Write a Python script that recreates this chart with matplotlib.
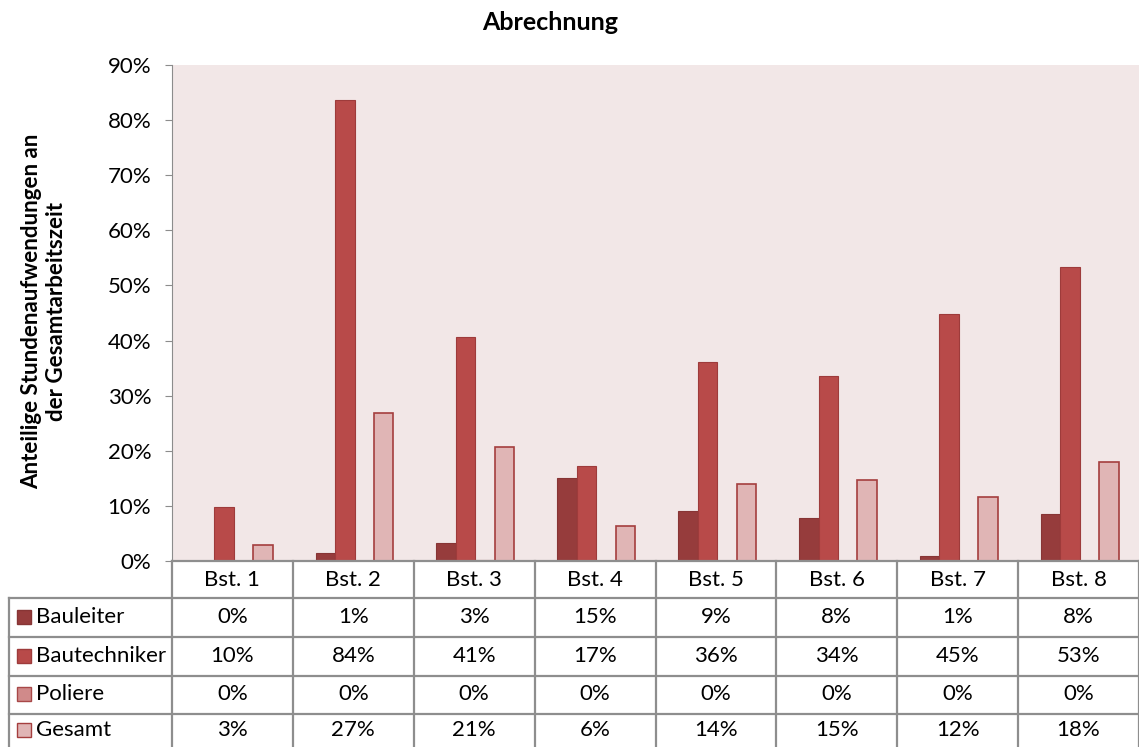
import numpy as np
import matplotlib
matplotlib.use("Agg")
import matplotlib.pyplot as plt
from matplotlib.patches import Rectangle

plt.rcParams['font.family'] = ['Lato', 'DejaVu Sans']

# ===== Daten =====
baustellen = ["Bst. 1", "Bst. 2", "Bst. 3", "Bst. 4", "Bst. 5", "Bst. 6", "Bst. 7", "Bst. 8"]
bauleiter = [0.0, 0.014, 0.033, 0.151, 0.091, 0.078, 0.009, 0.085]
bautechniker = [0.098, 0.837, 0.407, 0.172, 0.361, 0.336, 0.448, 0.534]
poliere = [0.0, 0.0, 0.002, 0.0, 0.0, 0.0, 0.0, 0.0]
gesamt = [0.029, 0.269, 0.206, 0.064, 0.140, 0.147, 0.116, 0.180]

serien = ["Bauleiter", "Bautechniker", "Poliere", "Gesamt"]
werte = [bauleiter, bautechniker, poliere, gesamt]
farben = ["#963C3C", "#B84A49", "#D08A8A", "#E0B5B5"]
kanten = ["#873535", "#9E3B3B", "#A84848", "#A53E3E"]

W, H = 1139, 747
fig = plt.figure(figsize=(W / 100, H / 100), dpi=100)

# Hauptdiagramm (Pixelgrenzen aus Vorlage)
x0, x1, y0, y1 = 172, 1139, 65, 561
ax = fig.add_axes([x0 / W, 1 - y1 / H, (x1 - x0) / W, (y1 - y0) / H])
ax.set_facecolor("#F2E7E7")

n = len(baustellen)
x = np.arange(n)
bw = 0.161
for i, (name, vals) in enumerate(zip(serien, werte)):
    lw = 1.2 if name == "Gesamt" else 0.8
    ax.bar(x + (i - 1.5) * bw + 0.01, vals, bw, color=farben[i], edgecolor=kanten[i],
           linewidth=lw, label=name, zorder=3)

ax.set_xlim(-0.5, n - 0.5)
ax.set_ylim(0, 0.9)
ax.set_yticks(np.arange(0, 0.91, 0.1))
ax.set_yticklabels([f"{int(round(v * 100))}%" for v in np.arange(0, 0.91, 0.1)], fontsize=16)
ax.set_xticks([])
for s in ["top", "right", "bottom"]:
    ax.spines[s].set_visible(False)
ax.spines["left"].set_color("#8C8C8C")
ax.tick_params(axis="y", length=5, color="#8C8C8C", pad=10)

fig.text(44 / W, 1 - 311 / H, "Anteilige Stundenaufwendungen an\nder Gesamtarbeitszeit",
         rotation=90, ha="center", va="center", multialignment="center",
         fontsize=16, fontweight="bold", linespacing=1.25)
fig.text(550 / W, 1 - 22 / H, "Abrechnung", ha="center", va="center", fontsize=18,
         fontweight="bold")

# ===== Datentabelle =====
ov = fig.add_axes([0, 0, 1, 1])
ov.set_xlim(0, W)
ov.set_ylim(H, 0)
ov.axis("off")

lc = "#8E8E8E"
col_w = (x1 - x0) / n
col_edges = [x0 + k * col_w for k in range(n + 1)]
row_edges = [y1, 598, 637, 676, 714]
row_mid = [579, 617, 656, 694, 730]
left = 9

ov.plot([x0, x1], [row_edges[0], row_edges[0]], color=lc, lw=1.6)
for r in row_edges[1:]:
    ov.plot([left, x1], [r, r], color=lc, lw=1.6)
ov.plot([x0, x0], [row_edges[0], H], color=lc, lw=1.6)
ov.plot([left, left], [row_edges[1], H], color=lc, lw=1.6)
for c in col_edges[1:]:
    ov.plot([c, c], [row_edges[0], H], color=lc, lw=1.6)

for k, name in enumerate(baustellen):
    ov.text((col_edges[k] + col_edges[k + 1]) / 2, row_mid[0] + 1,
            name, ha="center", va="center", fontsize=16)

for i, (name, vals) in enumerate(zip(serien, werte)):
    yc = row_mid[i + 1]
    ov.add_patch(Rectangle((17, yc - 7), 14, 14, facecolor=farben[i], edgecolor=kanten[i], lw=1))
    ov.text(36, yc, name, ha="left", va="center", fontsize=16)
    for k, v in enumerate(vals):
        ov.text((col_edges[k] + col_edges[k + 1]) / 2, yc, f"{int(round(v * 100))}%",
                ha="center", va="center", fontsize=16)

fig.savefig("out.png", dpi=100)
